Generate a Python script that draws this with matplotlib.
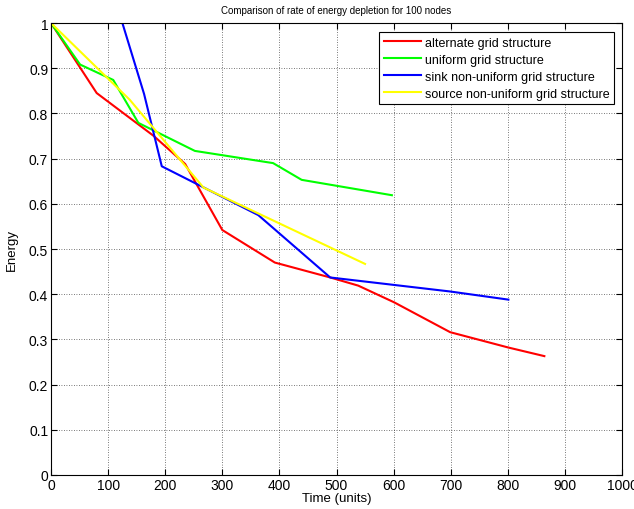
import numpy as np
import matplotlib
matplotlib.use('Agg')
import matplotlib.pyplot as plt

plt.rcParams['font.family'] = ['Liberation Sans', 'DejaVu Sans']

# energy vs time
t_alt = [0, 80, 180, 235, 300, 392, 489, 538, 601, 699, 801, 864]
e_alt = [1.0, 0.845, 0.75, 0.688, 0.542, 0.47, 0.437, 0.419, 0.382, 0.316, 0.282, 0.263]

t_uni = [0, 51, 109, 153, 252, 389, 439, 597]
e_uni = [1.0, 0.908, 0.874, 0.779, 0.717, 0.69, 0.653, 0.619]

t_sink = [125, 163, 194, 363, 489, 699, 801]
e_sink = [1.0, 0.843, 0.683, 0.575, 0.437, 0.406, 0.388]

t_src = [0, 138, 267, 550]
e_src = [1.0, 0.83, 0.636, 0.467]

labels = ['alternate grid structure', 'uniform grid structure',
          'sink non-uniform grid structure', 'source non-uniform grid structure']

fig = plt.figure(figsize=(6.34, 5.10), dpi=100)
ax = fig.add_axes([51/634, 1-476/510, (622-51)/634, (476-24)/510])

ax.plot(t_alt, e_alt, color='#ff0000', lw=1.5, label=labels[0])
ax.plot(t_uni, e_uni, color='#00ff00', lw=1.5, label=labels[1])
ax.plot(t_sink, e_sink, color='#0000ff', lw=1.5, label=labels[2])
ax.plot(t_src, e_src, color='#ffff00', lw=1.5, label=labels[3])

ax.set_xlim(0, 1000)
ax.set_ylim(0, 1)
ax.set_xticks(np.arange(0, 1001, 100))
ax.set_yticks(np.arange(0, 1.01, 0.1))
ax.set_xticklabels(['0', '100', '200', '300', '400', '500', '600', '700', '800', '900', '1000'])
ax.set_yticklabels(['0', '0.1', '0.2', '0.3', '0.4', '0.5', '0.6', '0.7', '0.8', '0.9', '1'])
ax.grid(True, color='black', linestyle=(0, (1, 2)), linewidth=0.6, alpha=0.7)
ax.tick_params(direction='in', top=True, right=True, labelsize=10, length=4, width=0.8, pad=2)
for s in ax.spines.values():
    s.set_linewidth(0.8)

ax.set_xlabel('Time (units)', fontsize=9.5, labelpad=0)
ax.set_ylabel('Energy', fontsize=9.5, labelpad=8)
ax.set_title('Comparison of rate of energy depletion for 100 nodes', fontsize=7, pad=7)

leg = ax.legend(loc='upper right', bbox_to_anchor=(0.99, 0.985), fontsize=9,
                fancybox=False, framealpha=1, edgecolor='black',
                handlelength=3.0, handletextpad=0.3, borderpad=0.35, labelspacing=0.4,
                borderaxespad=0.2)
leg.get_frame().set_linewidth(0.8)

fig.savefig('out.png', dpi=100)
